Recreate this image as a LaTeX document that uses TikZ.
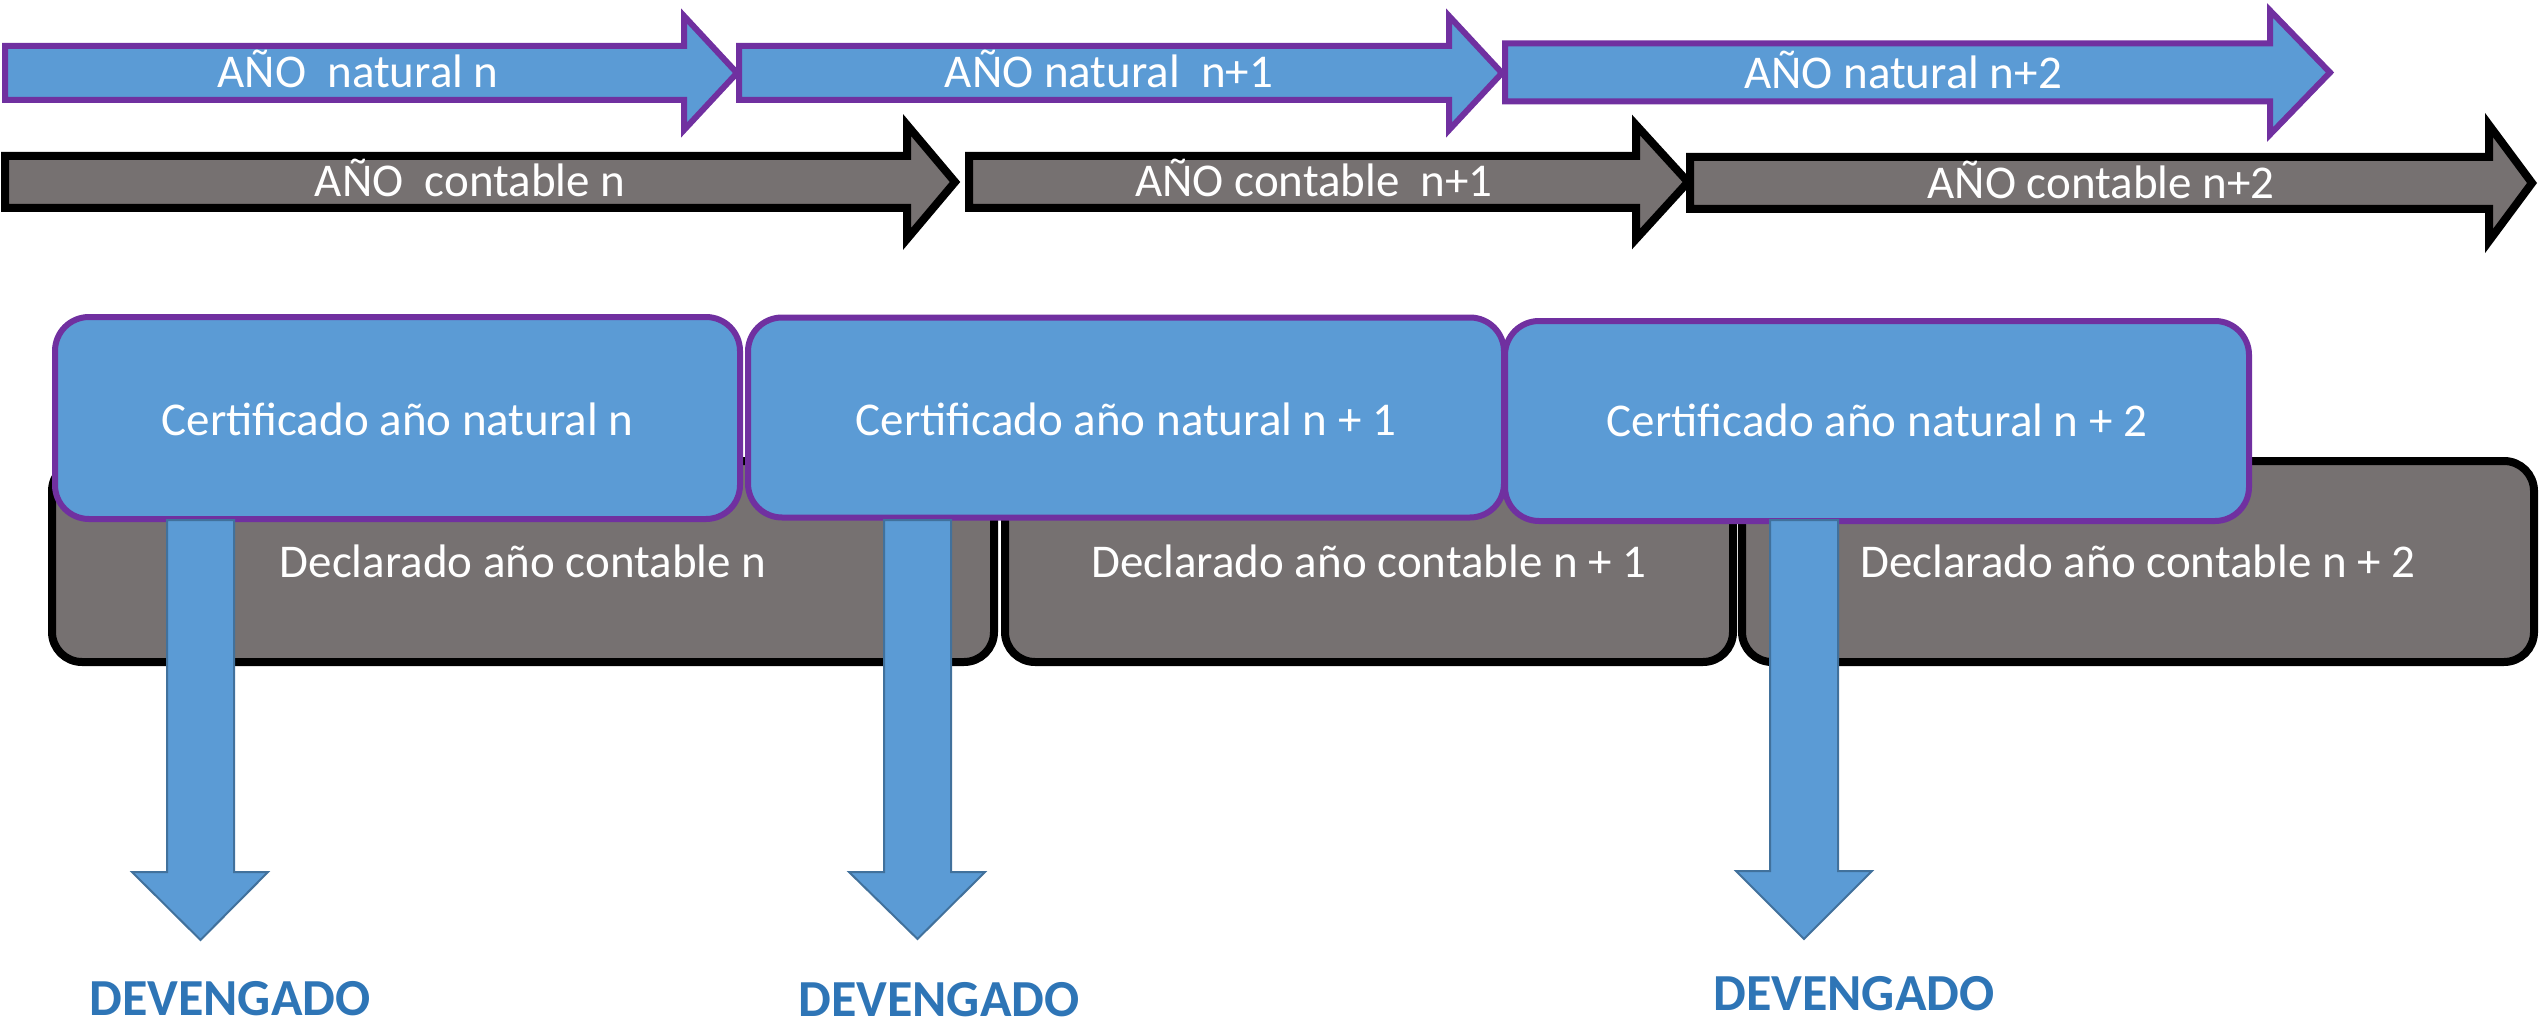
\documentclass[tikz,border=0pt]{standalone}
\usepackage{fontspec}
\setmainfont{Carlito}
\definecolor{fillblue}{HTML}{5B9BD5}
\definecolor{edgepurple}{HTML}{7030A0}
\definecolor{fillgray}{HTML}{767171}
\definecolor{edgeblue}{HTML}{41719C}
\definecolor{devblue}{HTML}{2E75B6}
\newcommand{\rightblock}[7]{% style, x0, xbase, xtip, ycenter, half shaft, half head
  \draw[#1] (#2,#5-#6) -- (#3,#5-#6) -- (#3,#5-#7) -- (#4,#5) -- (#3,#5+#7) -- (#3,#5+#6) -- (#2,#5+#6) -- cycle;}
\newcommand{\downblock}[7]{% x shaft left, x shaft right, ytop, ybase, x head left, x head right, ytip
  \draw[downarrow] (#1,#3) -- (#2,#3) -- (#2,#4) -- (#6,#4) -- ({(#1+#2)/2},#7) -- (#5,#4) -- (#1,#4) -- cycle;}
\begin{document}
\begin{tikzpicture}[x=1pt,y=-1pt,
  natarrow/.style={fill=fillblue, draw=edgepurple, line width=6pt, miter limit=10},
  contarrow/.style={fill=fillgray, draw=black, line width=8pt, miter limit=10},
  certbox/.style={rectangle, rounded corners=34pt, fill=fillblue, draw=edgepurple, line width=6pt, inner sep=0pt},
  declbox/.style={rectangle, rounded corners=30pt, fill=fillgray, draw=black, line width=8pt, inner sep=0pt},
  downarrow/.style={fill=fillblue, draw=edgeblue, line width=2pt},
  lbl/.style={text=white, font=\fontsize{47}{56}\selectfont, inner sep=0pt, anchor=base},
  dev/.style={text=devblue, font=\bfseries\fontsize{52}{60}\selectfont, inner sep=0pt, anchor=base}]
\useasboundingbox (0,0) rectangle (2540,1024);

% natural-year arrows
\rightblock{natarrow}{5}{684}{737}{73}{27}{57}
\node[lbl] (nat1) at (358,88) {AÑO\ \ natural n};
\rightblock{natarrow}{739}{1449}{1502}{73}{27}{57}
\node[lbl] (nat2) at (1109,88) {AÑO natural\ \ n+1};
\rightblock{natarrow}{1505}{2270}{2330}{72.5}{29}{62}
\node[lbl] (nat3) at (1903,89) {AÑO natural n+2};

% accounting-year arrows
\rightblock{contarrow}{5}{907}{955}{182}{26}{57}
\node[lbl] (cont1) at (470,197) {AÑO\ \ contable n};
\rightblock{contarrow}{969}{1636}{1688}{182}{26}{57}
\node[lbl] (cont2) at (1314,197) {AÑO contable\ \ n+1};
\rightblock{contarrow}{1690}{2489}{2532}{183}{26}{58}
\node[lbl] (cont3) at (2101,199) {AÑO contable n+2};

% declared boxes
\node[declbox, minimum width=942pt, minimum height=201pt] (decl1) at (523,561.5) {};
\node[lbl] (decl1t) at (523,577) {Declarado año contable n};
\node[declbox, minimum width=728pt, minimum height=201pt] (decl2) at (1369,561.5) {};
\node[lbl] (decl2t) at (1369,577) {Declarado año contable n + 1};
\node[declbox, minimum width=792pt, minimum height=201pt] (decl3) at (2138,561.5) {};
\node[lbl] (decl3t) at (2138,577) {Declarado año contable n + 2};

% certificate boxes
\node[certbox, minimum width=685pt, minimum height=202pt] (cert1) at (397.5,418) {};
\node[lbl] (cert1t) at (397.5,435) {Certificado año natural n};
\node[certbox, minimum width=756pt, minimum height=200pt] (cert2) at (1126,417.5) {};
\node[lbl] (cert2t) at (1126,435) {Certificado año natural n + 1};
\node[certbox, minimum width=744pt, minimum height=200pt] (cert3) at (1877,421) {};
\node[lbl] (cert3t) at (1877,436) {Certificado año natural n + 2};

% down arrows
\downblock{167}{234}{520}{872}{132}{268}{940}
\downblock{884}{951}{520}{872}{849}{985}{939}
\downblock{1770}{1838}{520}{871}{1736}{1872}{939}

% labels
\node[dev] (dev1) at (230,1015) {DEVENGADO};
\node[dev] (dev2) at (939,1016) {DEVENGADO};
\node[dev] (dev3) at (1854,1010) {DEVENGADO};
\end{tikzpicture}
\end{document}
